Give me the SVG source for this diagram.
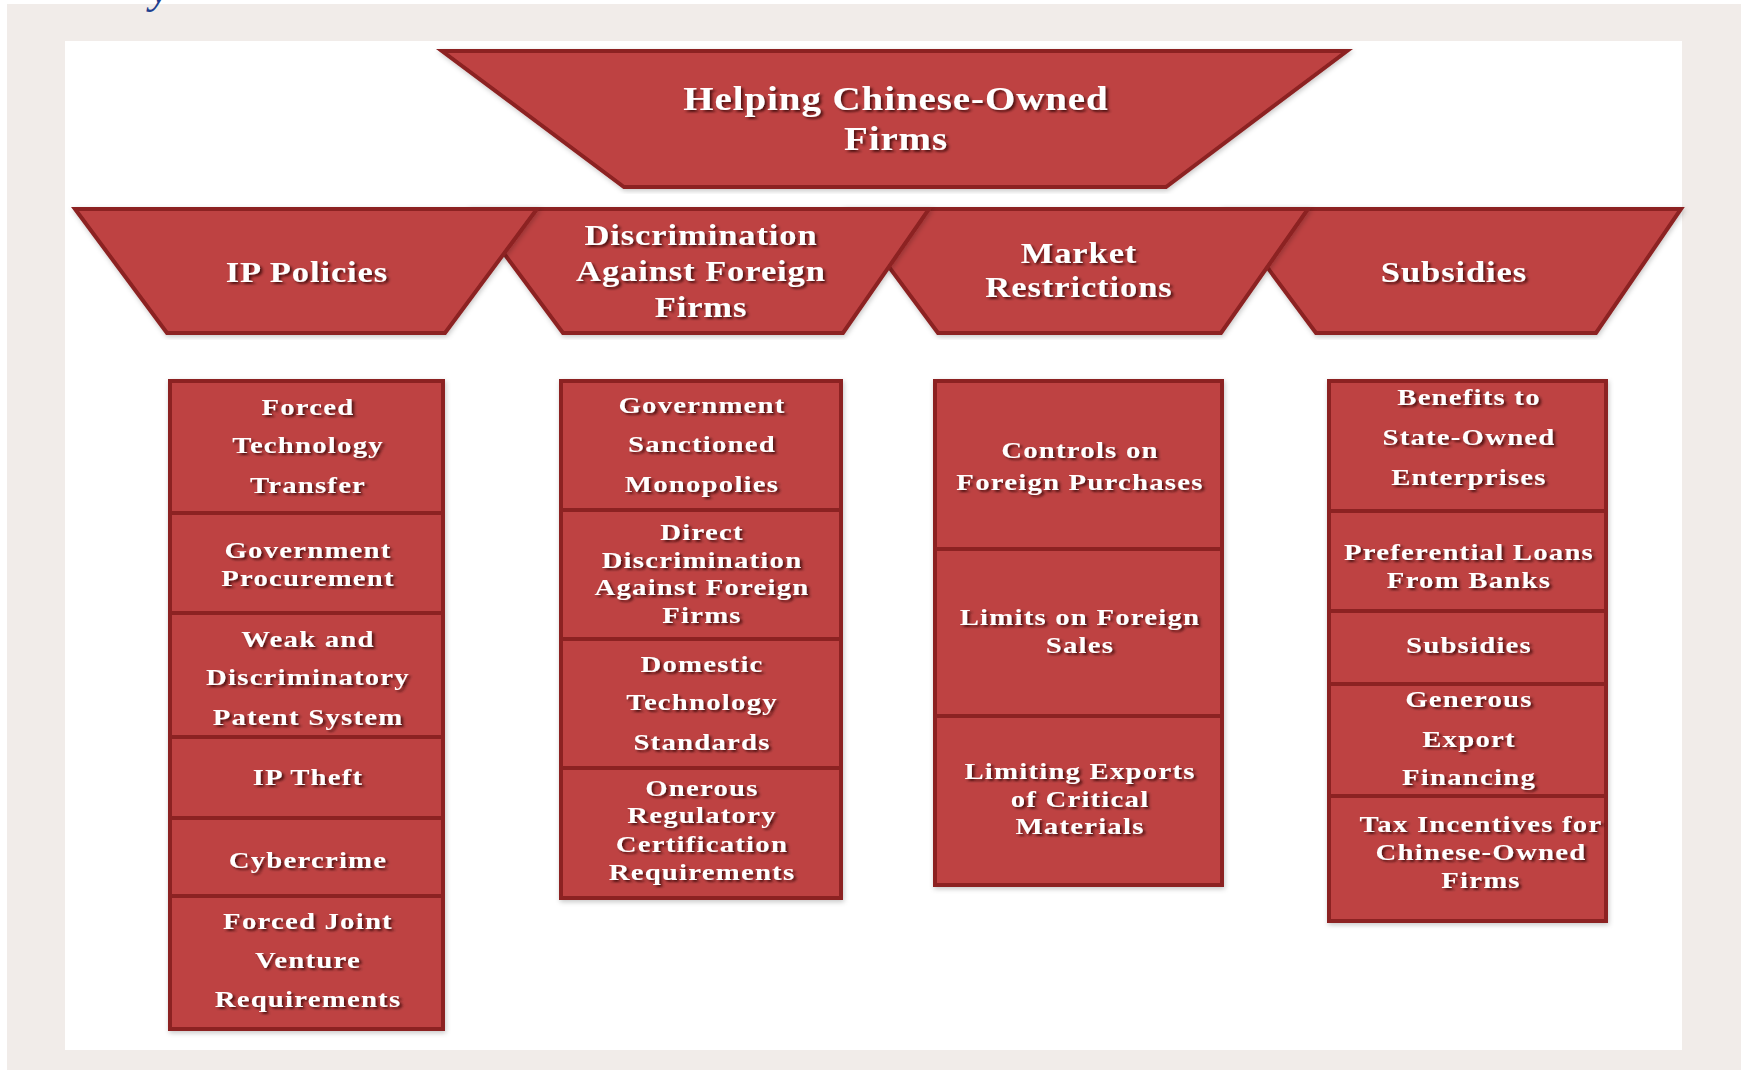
<svg xmlns="http://www.w3.org/2000/svg" width="1741" height="1070" viewBox="0 0 1741 1070">
<defs>
<filter id="ts" x="-10%" y="-30%" width="120%" height="160%">
<feDropShadow dx="2" dy="2" stdDeviation="1.2" flood-color="#2a0000" flood-opacity="0.75"/>
</filter>
<filter id="ss" x="-5%" y="-5%" width="110%" height="110%">
<feDropShadow dx="1" dy="2" stdDeviation="2.5" flood-color="#000" flood-opacity="0.22"/>
</filter>
<style>
.shape{fill:#be4343;stroke:#8c2222;stroke-width:4;stroke-linejoin:miter;}
.cell{fill:#be4343;stroke:#8c2222;stroke-width:4;}
text{font-family:"Liberation Serif","Times New Roman",serif;font-weight:bold;fill:#ffffff;text-anchor:middle;}
.t{font-size:24px;letter-spacing:1px;}
.h{font-size:30px;letter-spacing:0.8px;}
.ti{font-size:33px;letter-spacing:0.8px;}
.txt{filter:url(#ts);}
</style>
</defs>
<rect x="0" y="0" width="1741" height="1070" fill="#ffffff"/>
<rect x="7" y="4" width="1734" height="1066" fill="#f1ece9"/>
<rect x="65" y="41" width="1617" height="1009" fill="#ffffff"/>
<text x="150" y="3" style="font-size:44px;font-style:italic;font-weight:normal;fill:#1f3f8f;text-anchor:start">y</text>

<g id="connectors"></g>

<g id="title">
<polygon class="shape" filter="url(#ss)" points="442,51 1347,51 1166,187 624,187"/>
<g class="txt" transform="matrix(1.18 0 0 1 -161.28 0)"><text class="ti" x="896" y="110">Helping Chinese-Owned</text>
<text class="ti" x="896" y="150">Firms</text></g>
</g>

<g id="cat-subsidies">
<polygon class="shape" filter="url(#ss)" points="1224,209 1681,209 1596,333 1316,333"/>
<g class="txt" transform="matrix(1.15 0 0 1 -218.1 0)"><text class="h" x="1454" y="282">Subsidies</text></g>
</g>
<g id="cat-market">
<polygon class="shape" filter="url(#ss)" points="846,209 1308,209 1221,333 938,333"/>
<g class="txt" transform="matrix(1.15 0 0 1 -161.85 0)"><text class="h" x="1079" y="263">Market</text>
<text class="h" x="1079" y="297">Restrictions</text></g>
</g>
<g id="cat-discrimination">
<polygon class="shape" filter="url(#ss)" points="471,209 929,209 843,333 563,333"/>
<g class="txt" transform="matrix(1.15 0 0 1 -105.15 0)"><text class="h" x="701" y="245">Discrimination</text>
<text class="h" x="701" y="281">Against Foreign</text>
<text class="h" x="701" y="317">Firms</text></g>
</g>
<g id="cat-ip">
<polygon class="shape" filter="url(#ss)" points="75,209 537,209 445,333 167,333"/>
<g class="txt" transform="matrix(1.15 0 0 1 -46.05 0)"><text class="h" x="307" y="282">IP Policies</text></g>
</g>

<g id="col-ip" filter="url(#ss)">
<g id="ip-1"><rect class="cell" x="170" y="381" width="273" height="132"/>
<g class="txt" transform="matrix(1.2 0 0 1 -61.6 0)"><text class="t" x="308" y="415">Forced</text><text class="t" x="308" y="453">Technology</text><text class="t" x="308" y="493">Transfer</text></g></g>
<g id="ip-2"><rect class="cell" x="170" y="513" width="273" height="100"/>
<g class="txt" transform="matrix(1.2 0 0 1 -61.6 0)"><text class="t" x="308" y="558">Government</text><text class="t" x="308" y="586">Procurement</text></g></g>
<g id="ip-3"><rect class="cell" x="170" y="613" width="273" height="124"/>
<g class="txt" transform="matrix(1.2 0 0 1 -61.6 0)"><text class="t" x="308" y="647">Weak and</text><text class="t" x="308" y="685">Discriminatory</text><text class="t" x="308" y="725">Patent System</text></g></g>
<g id="ip-4"><rect class="cell" x="170" y="737" width="273" height="81"/>
<g class="txt" transform="matrix(1.2 0 0 1 -61.6 0)"><text class="t" x="308" y="785">IP Theft</text></g></g>
<g id="ip-5"><rect class="cell" x="170" y="818" width="273" height="78"/>
<g class="txt" transform="matrix(1.2 0 0 1 -61.6 0)"><text class="t" x="308" y="868">Cybercrime</text></g></g>
<g id="ip-6"><rect class="cell" x="170" y="896" width="273" height="133"/>
<g class="txt" transform="matrix(1.2 0 0 1 -61.6 0)"><text class="t" x="308" y="929">Forced Joint</text><text class="t" x="308" y="968">Venture</text><text class="t" x="308" y="1007">Requirements</text></g></g>
</g>

<g id="col-discrimination" filter="url(#ss)">
<g id="d-1"><rect class="cell" x="561" y="381" width="280" height="129"/>
<g class="txt" transform="matrix(1.2 0 0 1 -140.4 0)"><text class="t" x="702" y="413">Government</text><text class="t" x="702" y="452">Sanctioned</text><text class="t" x="702" y="492">Monopolies</text></g></g>
<g id="d-2"><rect class="cell" x="561" y="510" width="280" height="129"/>
<g class="txt" transform="matrix(1.2 0 0 1 -140.4 0)"><text class="t" x="702" y="540">Direct</text><text class="t" x="702" y="568">Discrimination</text><text class="t" x="702" y="595">Against Foreign</text><text class="t" x="702" y="623">Firms</text></g></g>
<g id="d-3"><rect class="cell" x="561" y="639" width="280" height="129"/>
<g class="txt" transform="matrix(1.2 0 0 1 -140.4 0)"><text class="t" x="702" y="672">Domestic</text><text class="t" x="702" y="710">Technology</text><text class="t" x="702" y="750">Standards</text></g></g>
<g id="d-4"><rect class="cell" x="561" y="768" width="280" height="130"/>
<g class="txt" transform="matrix(1.2 0 0 1 -140.4 0)"><text class="t" x="702" y="796">Onerous</text><text class="t" x="702" y="823">Regulatory</text><text class="t" x="702" y="852">Certification</text><text class="t" x="702" y="880">Requirements</text></g></g>
</g>

<g id="col-market" filter="url(#ss)">
<g id="m-1"><rect class="cell" x="935" y="381" width="287" height="168"/>
<g class="txt" transform="matrix(1.2 0 0 1 -216 0)"><text class="t" x="1080" y="458">Controls on</text><text class="t" x="1080" y="490">Foreign Purchases</text></g></g>
<g id="m-2"><rect class="cell" x="935" y="549" width="287" height="167"/>
<g class="txt" transform="matrix(1.2 0 0 1 -216 0)"><text class="t" x="1080" y="625">Limits on Foreign</text><text class="t" x="1080" y="653">Sales</text></g></g>
<g id="m-3"><rect class="cell" x="935" y="716" width="287" height="169"/>
<g class="txt" transform="matrix(1.2 0 0 1 -216 0)"><text class="t" x="1080" y="779">Limiting Exports</text><text class="t" x="1080" y="807">of Critical</text><text class="t" x="1080" y="834">Materials</text></g></g>
</g>

<g id="col-subsidies" filter="url(#ss)">
<g id="s-1"><rect class="cell" x="1329" y="381" width="277" height="130"/>
<g class="txt" transform="matrix(1.2 0 0 1 -293.8 0)"><text class="t" x="1469" y="405">Benefits to</text><text class="t" x="1469" y="445">State-Owned</text><text class="t" x="1469" y="485">Enterprises</text></g></g>
<g id="s-2"><rect class="cell" x="1329" y="511" width="277" height="100"/>
<g class="txt" transform="matrix(1.2 0 0 1 -293.8 0)"><text class="t" x="1469" y="560">Preferential Loans</text><text class="t" x="1469" y="588">From Banks</text></g></g>
<g id="s-3"><rect class="cell" x="1329" y="611" width="277" height="73"/>
<g class="txt" transform="matrix(1.2 0 0 1 -293.8 0)"><text class="t" x="1469" y="653">Subsidies</text></g></g>
<g id="s-4"><rect class="cell" x="1329" y="684" width="277" height="112"/>
<g class="txt" transform="matrix(1.2 0 0 1 -293.8 0)"><text class="t" x="1469" y="707">Generous</text><text class="t" x="1469" y="747">Export</text><text class="t" x="1469" y="785">Financing</text></g></g>
<g id="s-5"><rect class="cell" x="1329" y="796" width="277" height="125"/>
<g class="txt" transform="matrix(1.2 0 0 1 -296.2 0)"><text class="t" x="1481" y="832">Tax Incentives for</text><text class="t" x="1481" y="860">Chinese-Owned</text><text class="t" x="1481" y="888">Firms</text></g></g>
</g>
</svg>
